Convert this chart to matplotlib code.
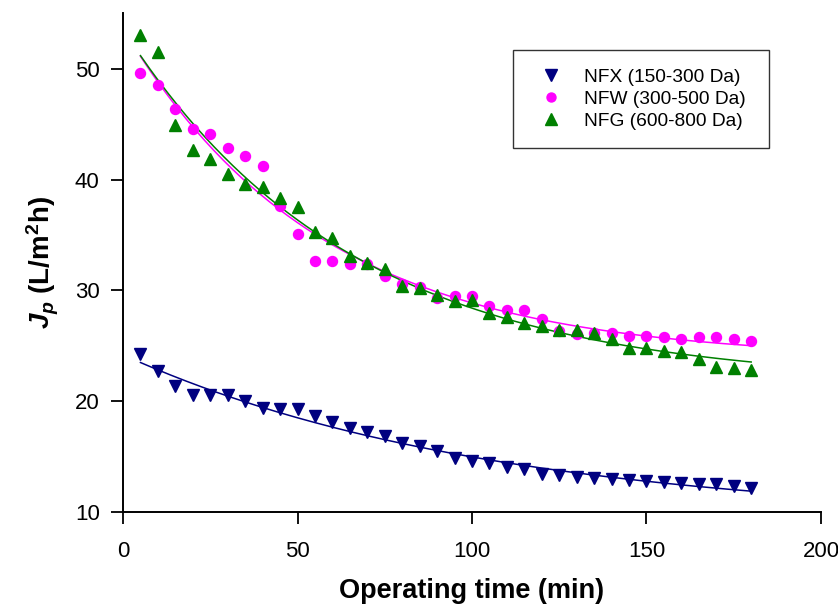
import numpy as np
import matplotlib
matplotlib.use('Agg')
import matplotlib.pyplot as plt

# Время работы, мин
time_min = [5, 10, 15, 20, 25, 30, 35, 40, 45, 50, 55, 60, 65, 70, 75, 80, 85, 90,
            95, 100, 105, 110, 115, 120, 125, 130, 135, 140, 145, 150, 155, 160, 165,
            170, 175, 180]

# Поток пермеата, L/m2h
nfx = [24.3, 22.7, 21.4, 20.6, 20.6, 20.6, 20.0, 19.4, 19.3, 19.3, 18.7, 18.1,
       17.6, 17.2, 16.9, 16.2, 16.0, 15.5, 14.9, 14.6, 14.4, 14.1, 13.85, 13.4,
       13.3, 13.2, 13.1, 13.0, 12.9, 12.8, 12.7, 12.6, 12.5, 12.5, 12.35, 12.2]
nfw = [49.65, 48.5, 46.4, 44.6, 44.1, 42.9, 42.1, 41.2, 37.6, 35.06, 32.65, 32.65,
       32.35, 32.4, 31.3, 30.6, 30.3, 29.35, 29.5, 29.5, 28.6, 28.2, 28.2, 27.4,
       26.3, 26.1, 26.2, 26.2, 25.9, 25.9, 25.8, 25.6, 25.8, 25.8, 25.6, 25.4]
nfg = [53.05, 51.5, 44.9, 42.7, 41.9, 40.5, 39.6, 39.3, 38.3, 37.55, 35.3, 34.7,
       33.1, 32.45, 31.9, 30.4, 30.2, 29.6, 29.05, 29.1, 28.0, 27.6, 27.1, 26.8,
       26.4, 26.4, 26.2, 25.6, 24.8, 24.8, 24.5, 24.4, 23.8, 23.06, 23.0, 22.8]

labels = ['NFX (150-300 Da)', 'NFW (300-500 Da)', 'NFG (600-800 Da)']


def exp_fit(x, y):
    # y = a*exp(-b*x) + c, перебор b и МНК для a, c
    x = np.asarray(x, dtype=float)
    y = np.asarray(y, dtype=float)
    best = None
    for b in np.linspace(0.001, 0.1, 2000):
        A = np.column_stack([np.exp(-b * x), np.ones_like(x)])
        coef, *_ = np.linalg.lstsq(A, y, rcond=None)
        err = np.sum((A @ coef - y) ** 2)
        if best is None or err < best[0]:
            best = (err, coef[0], b, coef[1])
    _, a, b, c = best
    return lambda t: a * np.exp(-b * t) + c


plt.rcParams['font.family'] = ['Liberation Sans', 'DejaVu Sans']
plt.rcParams['mathtext.fontset'] = 'custom'
plt.rcParams['mathtext.it'] = 'Liberation Sans:italic:bold'
plt.rcParams['mathtext.rm'] = 'Liberation Sans:bold'
plt.rcParams['mathtext.bf'] = 'Liberation Sans:bold'

fig = plt.figure(figsize=(8.38, 6.12), dpi=100)
ax = fig.add_axes([0.1468, 0.1634, 0.8329, 0.8146])

series = [
    (nfx, 'v', '#000080', 9.0),
    (nfw, 'o', '#FF00FF', 7.2),
    (nfg, '^', '#008000', 9.0),
]

t_line = np.linspace(5, 180, 200)
for (vals, marker, color, ms), label in zip(series, labels):
    ax.plot(time_min, vals, linestyle='none', marker=marker, color=color,
            markersize=ms, label=label, zorder=3)
    f = exp_fit(time_min, vals)
    ax.plot(t_line, f(t_line), color=color, linewidth=1.1, zorder=2)

ax.set_xlim(0, 200)
ax.set_ylim(10, 55)
ax.set_xticks([0, 50, 100, 150, 200])
ax.set_yticks([10, 20, 30, 40, 50])
ax.tick_params(direction='out', length=8.3, width=1.3, labelsize=16, colors='black')
ax.tick_params(axis='x', pad=12.5)
ax.tick_params(axis='y', pad=8.5)
ax.spines['top'].set_visible(False)
ax.spines['right'].set_visible(False)
ax.spines['left'].set_linewidth(1.4)
ax.spines['bottom'].set_linewidth(1.4)

ax.set_xlabel('Operating time (min)', fontsize=19.5, fontweight='bold', labelpad=11.5)
ax.set_ylabel(r'$J_p$ (L/m$^2$h)', fontsize=20, fontweight='bold', labelpad=10)

# Легенда в рамке, растянута до ширины как в оригинале
leg = ax.legend(loc='upper left', bbox_to_anchor=(0.5587, 0.7366, 0.3668, 0.19),
                mode='expand', fontsize=13.8,
                frameon=True, fancybox=False, borderpad=0.95, handletextpad=0.68,
                handlelength=2.08, markerscale=0.9, labelspacing=0.24, borderaxespad=0)
leg.get_frame().set_edgecolor('black')
leg.get_frame().set_linewidth(1.0)

plt.savefig('out.png', dpi=100)
